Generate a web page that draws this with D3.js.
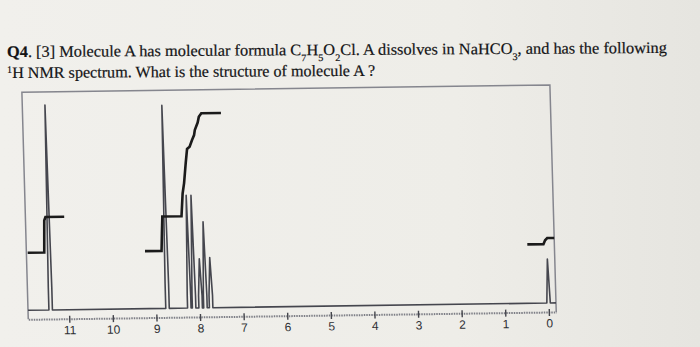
<!DOCTYPE html>
<html>
<head>
<meta charset="utf-8">
<title>1H NMR spectrum</title>
<script src="https://cdn.jsdelivr.net/npm/d3@7"></script>
<style>
    body { margin: 0; background: linear-gradient(to right, #f1f0ec 0%, #eeede8 65%, #e6e5e0 100%); }
    svg { display: block; }
</style>
</head>
<body>
<div id="graph"></div>
<script>
/*global d3 */

// axis ticks (ppm)
var tickValues = [11, 10, 9, 8, 7, 6, 5, 4, 3, 2, 1, 0];

// peaks
var peakPpm = [11.42, 8.74, 8.24, 8.13, 7.98, 7.87, 7.74, 0.0];
var peakHeight = [100, 99, 55, 55, 24, 42, 24.5, 21.5];
var peakFoot = [11, 12, 6, 6, 6, 6, 6, 0];

// integral curves [ppm, integral]
var integral1 = [[11.91, 0], [11.53, 0], [11.51, 0.9], [11.48, 1.0], [11.05, 1.0]];
var integral2 = [[9.22, 0], [8.84, 0], [8.82, 0.5], [8.80, 0.97], [8.36, 0.97], [8.32, 1.61],
    [8.28, 1.9], [8.23, 2.46], [8.19, 2.86], [8.13, 2.92], [8.07, 3.11], [8.02, 3.25],
    [8.0, 3.39], [7.93, 3.6], [7.90, 3.76], [7.84, 3.86], [7.39, 3.86]];
var integral3 = [[0.45, 0.04], [0.08, 0.04], [0.04, 0.15], [-0.01, 0.21], [-0.17, 0.21]];

var ppmRange = [11.94, -0.17];

function dessinSpectre() {
    "use strict";
    var left = 28, right = 556, top = 92, axeY = 319, base = 310,
        halfWidth = 0.04,
        couleur_spectre = "#45464e",
        couleur_integrale = "#1b1b1b",
        couleur_cadre = "#85868e",

        svg = d3.select("#graph")
            .append("svg")
                .attr("width", 700)
                .attr("height", 347),

        x = d3.scaleLinear()
            .domain(ppmRange)
            .range([left, right]),

        y = d3.scaleLinear()
            .domain([0, 100])
            .range([base, 105]),

        yInt = d3.scaleLinear()
            .domain([0, 4])
            .range([252.5, 110.5]),

        points = [[ppmRange[0], 0]],
        titre, ligne1, ligne2, g, axe, trace;

    // question text
    titre = svg.append("g")
        .attr("transform", "rotate(-0.35, 8, 57)")
        .style("font-family", "'Liberation Serif', 'Times New Roman', serif")
        .style("font-size", "16px")
        .style("fill", "#141416")
        .style("stroke", "#141416")
        .style("stroke-width", 0.2);

    ligne1 = titre.append("text")
        .attr("x", 7)
        .attr("y", 57)
        .attr("textLength", 660)
        .attr("lengthAdjust", "spacingAndGlyphs");
    ligne1.append("tspan").style("font-weight", "bold").text("Q4");
    ligne1.append("tspan").text(". [3]  Molecule A has molecular formula C");
    ligne1.append("tspan").attr("baseline-shift", "sub").style("font-size", "10px").text("7");
    ligne1.append("tspan").text("H");
    ligne1.append("tspan").attr("baseline-shift", "sub").style("font-size", "10px").text("5");
    ligne1.append("tspan").text("O");
    ligne1.append("tspan").attr("baseline-shift", "sub").style("font-size", "10px").text("2");
    ligne1.append("tspan").text("Cl. A dissolves in NaHCO");
    ligne1.append("tspan").attr("baseline-shift", "sub").style("font-size", "10px").text("3");
    ligne1.append("tspan").text(", and has the following");

    ligne2 = titre.append("text")
        .attr("x", 7)
        .attr("y", 78)
        .attr("textLength", 368)
        .attr("lengthAdjust", "spacingAndGlyphs");
    ligne2.append("tspan").attr("baseline-shift", "super").style("font-size", "10px").text("1");
    ligne2.append("tspan").text("H NMR spectrum. What is the structure of molecule A ?");

    // the photo is slightly tilted and skewed
    g = svg.append("g")
        .attr("transform", "matrix(1,-0.014,0.028,1," + (-0.028 * base) + ",0.7)");

    // frame
    g.append("path")
        .attr("d", "M" + left + "," + axeY + "V" + top + "H" + right + "V" + axeY)
        .attr("fill", "none")
        .attr("stroke", couleur_cadre)
        .attr("stroke-width", 1.5);

    // axis
    axe = g.append("g")
        .attr("transform", "translate(0," + axeY + ")")
        .call(d3.axisBottom(x).tickValues(tickValues).tickSizeOuter(0).tickFormat(d3.format("d")));
    axe.select(".domain")
        .attr("stroke", "#7d7e86")
        .attr("stroke-width", 2)
        .attr("stroke-dasharray", "1.5 1");
    axe.selectAll(".tick line")
        .attr("y1", -3)
        .attr("y2", 4)
        .attr("stroke", "#44454c")
        .attr("stroke-width", 1.4);
    axe.selectAll(".tick text")
        .attr("y", 7)
        .style("font-family", "'Liberation Sans', Arial, sans-serif")
        .style("font-size", "12px")
        .style("fill", "#2e2f34");

    // spectrum trace
    peakPpm.forEach(function (p, i) {
        points.push([p + halfWidth, 0]);
        points.push([p + halfWidth, peakFoot[i]]);
        points.push([p, peakHeight[i]]);
        points.push([p - halfWidth, peakFoot[i]]);
        points.push([p - halfWidth, 0]);
    });
    points.push([ppmRange[1], 0]);

    trace = d3.line()
        .x(function (d) { return x(d[0]); })
        .y(function (d) { return y(d[1]); });

    g.append("path")
        .datum(points)
        .attr("fill", "none")
        .attr("stroke", couleur_spectre)
        .attr("stroke-width", 1.6)
        .attr("stroke-linejoin", "round")
        .attr("d", trace);

    // integrals
    g.selectAll(".integrale")
        .data([integral1, integral2, integral3])
        .enter()
        .append("path")
        .attr("class", "integrale")
        .attr("fill", "none")
        .attr("stroke", couleur_integrale)
        .attr("stroke-width", 2.6)
        .attr("d", d3.line()
            .x(function (d) { return x(d[0]); })
            .y(function (d) { return yInt(d[1]); })
            );
}

dessinSpectre();
</script>
</body>
</html>
